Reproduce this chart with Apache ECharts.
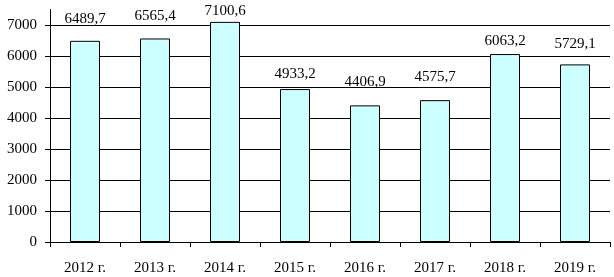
<!DOCTYPE html>
<html>
<head>
<meta charset="utf-8">
<script src="https://cdn.jsdelivr.net/npm/echarts@6/dist/echarts.min.js"></script>
<style>html,body{margin:0;padding:0;background:#fff;}#c{width:614px;height:277px;}</style>
</head>
<body>
<div id="c"></div>
<script>
var categories = ['2012 г.', '2013 г.', '2014 г.', '2015 г.', '2016 г.', '2017 г.', '2018 г.', '2019 г.'];
var values = [6489.7, 6565.4, 7100.6, 4933.2, 4406.9, 4575.7, 6063.2, 5729.1];
// label gap above each bar (style only)
var labelGaps = [14, 15, 3, 8, 16, 16, 5, 13];

var FONT = '"Liberation Serif", "Times New Roman", serif';
var chart = echarts.init(document.getElementById('c'), null, {renderer: 'canvas'});
chart.setOption({
  animation: false,
  backgroundColor: '#ffffff',
  grid: {left: 50, right: 4, top: 9.5, bottom: 35, containLabel: false},
  xAxis: {
    type: 'category',
    data: categories,
    axisLine: {lineStyle: {color: '#000', width: 1}},
    axisTick: {show: true, length: 5, alignWithLabel: false, lineStyle: {color: '#000'}},
    axisLabel: {color: '#000', fontFamily: FONT, fontSize: 15, margin: 19},
    splitLine: {show: false}
  },
  yAxis: {
    type: 'value',
    min: 0,
    max: 7500,
    interval: 1000,
    axisLine: {show: true, lineStyle: {color: '#000', width: 1}},
    axisTick: {show: true, length: 5, lineStyle: {color: '#000'}},
    axisLabel: {color: '#000', fontFamily: FONT, fontSize: 15, margin: 13, showMaxLabel: false,
      formatter: function (v) { return String(v); }},
    splitLine: {show: true, showMaxLine: false, lineStyle: {color: '#000', width: 1}}
  },
  series: [{
    type: 'bar',
    data: values.map(function (v, i) {
      return {value: v, label: {distance: labelGaps[i]}};
    }),
    barWidth: 30,
    itemStyle: {color: '#ccffff', borderColor: '#000', borderWidth: 1},
    label: {
      show: true,
      position: 'top',
      color: '#000',
      fontFamily: FONT,
      fontSize: 15,
      formatter: function (p) { return p.value.toFixed(1).replace('.', ','); }
    }
  }]
});
</script>
</body>
</html>
